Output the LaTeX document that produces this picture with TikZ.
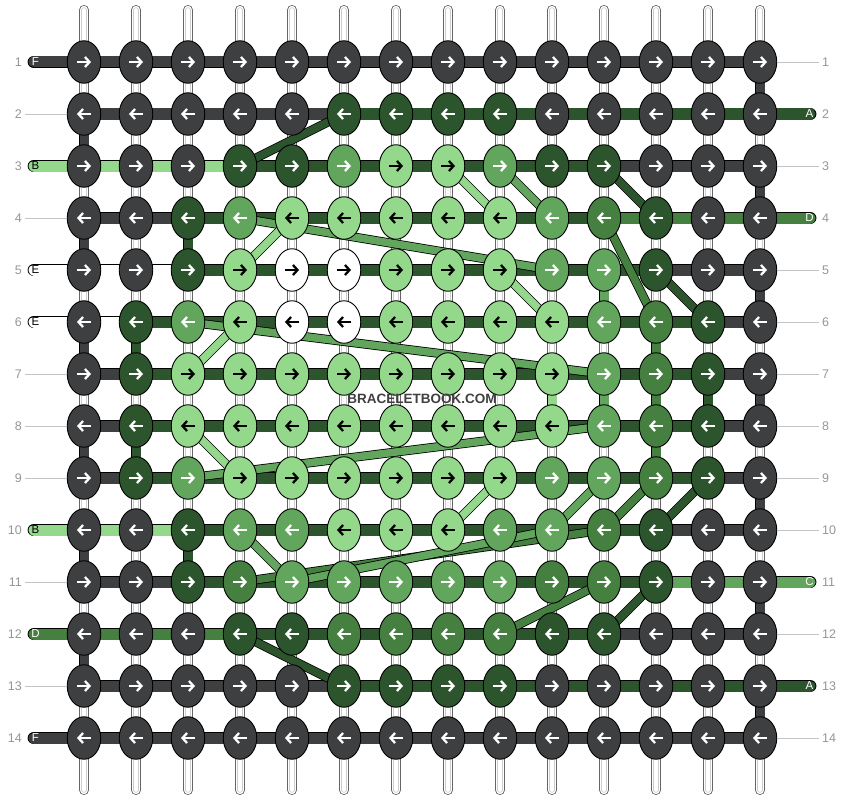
\documentclass[tikz,border=0pt]{standalone}
\usepackage{fontspec}
\setmainfont{Liberation Sans}
\usetikzlibrary{shapes.geometric, arrows.meta}
\definecolor{strA}{RGB}{45,85,45}
\definecolor{strB}{RGB}{148,216,140}
\definecolor{strC}{RGB}{97,166,92}
\definecolor{strD}{RGB}{70,128,65}
\definecolor{strE}{RGB}{255,255,255}
\definecolor{strF}{RGB}{62,63,65}
\colorlet{arrA}{white}\colorlet{arrB}{black}\colorlet{arrC}{white}
\colorlet{arrD}{white}\colorlet{arrE}{black}\colorlet{arrF}{white}
\definecolor{rowgrey}{RGB}{150,150,150}
\definecolor{guidegrey}{RGB}{195,195,195}
\definecolor{tubegrey}{RGB}{205,205,205}
\tikzset{
    knot/.style={ellipse, draw=black, line width=0.9, minimum width=33.5,
        minimum height=42.5, inner sep=0},
    knotarrow/.style={line width=2.3, -{Straight Barb[length=4.5pt, width=10pt]}},
    tube/.style={line width=0.8, draw=black!60, double=white, double distance=8.4,
        line cap=round, postaction={draw=tubegrey, line width=0.7, double=white,
        double distance=3.8, line cap=round}},
    bar/.style={line width=0.9, draw=black, double distance=11},
    tail/.style={bar, line cap=round},
    vbar/.style={line width=0.9, draw=black, double distance=9},
    band/.style={line width=0.8, draw=black, double distance=7.5},
    guide/.style={draw=guidegrey, line width=0.9},
    rownum/.style={text=rowgrey, font=\fontsize{12.5}{13}\selectfont, inner sep=3pt},
    taillabel/.style={font=\fontsize{11.5}{12}\selectfont, inner sep=0},
}

\begin{document}
\begin{tikzpicture}[x=1pt, y=-1pt]
    \useasboundingbox[fill=white] (0, 0) rectangle (844, 800);
    % grid of knot centres
    \foreach \r in {1,...,14}
        \foreach \c in {1,...,14}
            \coordinate (p-\r-\c) at ({84+52*(\c-1)}, {62+52*(\r-1)});
    % base threads
    \foreach \c in {1,...,14} {
        \coordinate (top-\c) at ({84+52*(\c-1)}, 10);
        \coordinate (bot-\c) at ({84+52*(\c-1)}, 790);
        \draw[tube] (top-\c) -- (bot-\c);
    }
    % row strings between knots
    \foreach \r/\row in {
        1/{F,F,F,F,F,F,F,F,F,F,F,F,F},
        2/{F,F,F,F,F,A,A,A,A,A,A,A,A},
        3/{B,B,B,A,A,A,A,A,A,A,F,F,F},
        4/{F,F,A,A,A,A,A,A,A,A,D,D,D},
        5/{E,E,A,A,A,A,A,A,A,A,A,F,F},
        6/{E,A,A,A,A,A,A,A,A,A,A,A,F},
        7/{F,A,A,A,A,A,A,A,A,A,A,A,F},
        8/{F,A,A,A,A,A,A,A,A,A,A,A,F},
        9/{F,A,A,A,A,A,A,A,A,A,A,A,F},
        10/{B,B,A,A,A,A,A,A,A,A,A,F,F},
        11/{F,F,A,A,A,A,A,A,A,A,A,C,C},
        12/{D,D,D,A,A,A,A,A,A,A,F,F,F},
        13/{F,F,F,F,F,A,A,A,A,A,A,A,A},
        14/{F,F,F,F,F,F,F,F,F,F,F,F,F}}
        \foreach \s [count=\c] in \row {
            \pgfmathtruncatemacro\n{\c+1}
            \draw[bar, double=str\s] (p-\r-\c) -- (p-\r-\n);
        }
    % loose ends
    \foreach \r/\s in {1/F, 3/B, 5/E, 6/E, 10/B, 12/D, 14/F} {
        \coordinate (tl-\r) at (34, {62+52*(\r-1)});
        \draw[tail, double=str\s] (tl-\r) -- (p-\r-1);
    }
    \foreach \r/\s in {2/A, 4/D, 11/C, 13/A} {
        \coordinate (tr-\r) at (810, {62+52*(\r-1)});
        \draw[tail, double=str\s] (p-\r-14) -- (tr-\r);
    }
    % strings carried down between rows
    \foreach \r/\c/\s in {1/14/F, 2/1/F, 3/14/F, 4/1/F, 4/3/A, 5/11/C, 5/14/F,
        6/1/F, 6/2/A, 6/12/D, 7/10/B, 7/11/C, 7/12/D, 7/13/A, 7/14/F, 8/1/F,
        8/2/A, 8/12/D, 9/14/F, 10/1/F, 10/3/A, 11/14/F, 12/1/F, 13/14/F} {
        \pgfmathtruncatemacro\n{\r+1}
        \draw[vbar, double=str\s] (p-\r-\c) -- (p-\n-\c);
    }
    % strings moving across
    \foreach \ra/\ca/\rb/\cb/\s in {3/4/2/6/A, 3/8/4/9/B, 3/9/4/10/C,
        3/11/4/12/A, 4/11/6/12/D, 5/12/6/13/A, 4/4/5/10/C, 5/4/4/5/B,
        5/9/6/10/B, 7/3/6/4/B, 6/3/7/11/C, 8/3/9/4/B, 9/3/8/11/C,
        9/9/10/8/B, 9/11/10/10/C, 9/12/10/11/D, 9/13/10/12/A, 10/4/11/5/C,
        11/4/10/11/D, 11/5/10/10/C, 11/11/12/9/D, 11/12/12/11/A, 12/4/13/6/A}
        \draw[band, double=str\s] (p-\ra-\ca) -- (p-\rb-\cb);
    % knots
    \foreach \r/\row in {
        1/{F,F,F,F,F,F,F,F,F,F,F,F,F,F},
        2/{F,F,F,F,F,A,A,A,A,F,F,F,F,F},
        3/{F,F,F,A,A,C,B,B,C,A,A,F,F,F},
        4/{F,F,A,C,B,B,B,B,B,C,D,A,F,F},
        5/{F,F,A,B,E,E,B,B,B,C,C,A,F,F},
        6/{F,A,C,B,E,E,B,B,B,B,C,D,A,F},
        7/{F,A,B,B,B,B,B,B,B,B,C,D,A,F},
        8/{F,A,B,B,B,B,B,B,B,B,C,D,A,F},
        9/{F,A,C,B,B,B,B,B,B,C,C,D,A,F},
        10/{F,F,A,C,C,B,B,B,C,C,D,A,F,F},
        11/{F,F,A,D,C,C,C,C,C,D,D,A,F,F},
        12/{F,F,F,A,A,D,D,D,D,A,A,F,F,F},
        13/{F,F,F,F,F,A,A,A,A,F,F,F,F,F},
        14/{F,F,F,F,F,F,F,F,F,F,F,F,F,F}}
        \foreach \s [count=\c] in \row {
            \node[knot, fill=str\s] (k-\r-\c) at (p-\r-\c) {};
            \ifodd\r
                \draw[knotarrow, draw=arr\s] ([xshift=-7]k-\r-\c.center)
                    -- ([xshift=7]k-\r-\c.center);
            \else
                \draw[knotarrow, draw=arr\s] ([xshift=7]k-\r-\c.center)
                    -- ([xshift=-7]k-\r-\c.center);
            \fi
        }
    % row numbers
    \foreach \r in {1,...,14} {
        \node[rownum, anchor=east] (ln-\r) at (25, {62+52*(\r-1)}) {\r};
        \node[rownum, anchor=west] (rn-\r) at (819, {62+52*(\r-1)}) {\r};
    }
    \foreach \r in {2, 4, 7, 8, 9, 11, 13}
        \draw[guide] (ln-\r.east) -- (k-\r-1.west);
    \foreach \r in {1, 3, 5, 6, 7, 8, 9, 10, 12, 14}
        \draw[guide] (k-\r-14.east) -- (rn-\r.west);
    % letters on the loose ends
    \foreach \r/\s/\t in {1/F/white, 3/B/black, 5/E/black, 6/E/black,
        10/B/black, 12/D/white, 14/F/white}
        \node[taillabel, text=\t] (tln-\r) at ([xshift=1.5]tl-\r) {\s};
    \foreach \r/\s/\t in {2/A/white, 4/D/white, 11/C/white, 13/A/white}
        \node[taillabel, text=\t] (trn-\r) at ([xshift=-0.5]tr-\r) {\s};
    \node[font=\bfseries\fontsize{13.5}{14}\selectfont, text=black!75]
        (mark) at (422, 399) {BRACELETBOOK.COM};
\end{tikzpicture}
\end{document}
